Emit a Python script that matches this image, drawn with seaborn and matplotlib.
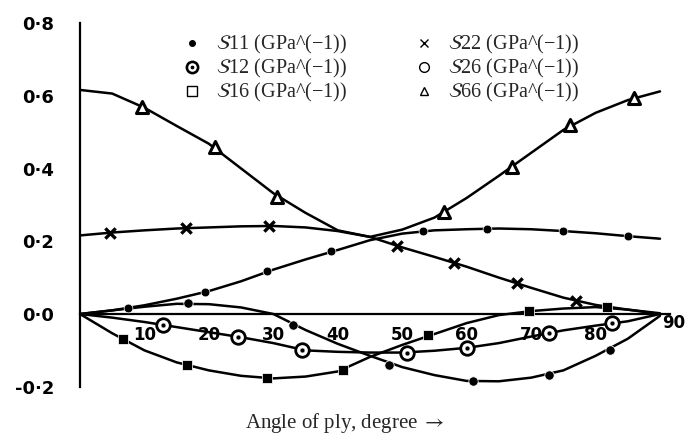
import matplotlib
matplotlib.use('Agg')
import matplotlib.pyplot as plt
import matplotlib.transforms as mtransforms
from matplotlib.lines import Line2D
import seaborn as sns

# Curves every 5 degrees (compliance, GPa^-1)
angles = [0, 5, 10, 15, 20, 25, 30, 35, 40, 45, 50, 55, 60, 65, 70, 75, 80, 85, 90]
s11 = [0.0, 0.010, 0.024, 0.042, 0.063, 0.090, 0.122, 0.150, 0.176, 0.203, 0.221, 0.230,
       0.233, 0.235, 0.233, 0.228, 0.222, 0.214, 0.207]
s12 = [0.0, -0.010, -0.022, -0.036, -0.050, -0.064, -0.080, -0.100, -0.104, -0.106, -0.106,
       -0.101, -0.093, -0.080, -0.062, -0.045, -0.032, -0.020, 0.0]
s16 = [0.0, -0.053, -0.100, -0.133, -0.155, -0.170, -0.177, -0.172, -0.158, -0.118, -0.085,
       -0.055, -0.025, -0.003, 0.008, 0.015, 0.019, 0.012, 0.0]
s22 = [0.216, 0.224, 0.230, 0.235, 0.238, 0.241, 0.242, 0.238, 0.228, 0.212, 0.183, 0.157,
       0.130, 0.100, 0.072, 0.045, 0.025, 0.012, 0.002]
s26 = [0.0, 0.010, 0.020, 0.028, 0.027, 0.018, 0.0, -0.044, -0.082, -0.115, -0.146, -0.168,
       -0.184, -0.185, -0.175, -0.155, -0.115, -0.068, -0.005]
s66 = [0.616, 0.606, 0.567, 0.517, 0.468, 0.400, 0.332, 0.278, 0.230, 0.212, 0.232, 0.265,
       0.319, 0.380, 0.443, 0.506, 0.553, 0.588, 0.612]

# Hand-drawn marker positions
s11_mx = [7.5, 19.4, 29, 39, 53.3, 63.2, 75, 85]
s11_my = [0.017, 0.060, 0.118, 0.173, 0.228, 0.234, 0.228, 0.214]
s12_mx = [12.9, 24.5, 34.4, 50.8, 60, 72.7, 82.6]
s12_my = [-0.030, -0.063, -0.099, -0.107, -0.093, -0.052, -0.025]
s16_mx = [6.7, 16.6, 29, 40.8, 54, 69.6, 81.8]
s16_my = [-0.069, -0.140, -0.176, -0.154, -0.058, 0.007, 0.019]
s22_mx = [4.7, 16.5, 29.3, 49.2, 58, 67.8, 76.9]
s22_my = [0.223, 0.236, 0.242, 0.187, 0.141, 0.084, 0.037]
s26_mx = [16.8, 33, 48, 61, 72.7, 82.3]
s26_my = [0.030, -0.030, -0.140, -0.185, -0.168, -0.100]
s66_mx = [9.6, 21, 30.6, 56.5, 67, 76, 86]
s66_my = [0.569, 0.459, 0.322, 0.281, 0.404, 0.520, 0.594]

ytick_vals = [-0.2, 0.0, 0.2, 0.4, 0.6, 0.8]
ytick_labels = ['-0·2', '0·0', '0·2', '0·4', '0·6', '0·8']
xtick_vals = [10, 20, 30, 40, 50, 60, 70, 80, 90]
xtick_labels = ['10', '20', '30', '40', '50', '60', '70', '80', '90']
xminor_vals = [5, 15, 25, 35, 45, 55, 65, 75, 85]
legend_labels = [r'$\mathcal{S}$11 (GPa^(−1))', r'$\mathcal{S}$12 (GPa^(−1))',
                 r'$\mathcal{S}$16 (GPa^(−1))', r'$\mathcal{S}$22 (GPa^(−1))',
                 r'$\mathcal{S}$26 (GPa^(−1))', r'$\mathcal{S}$66 (GPa^(−1))']
xlabel = r'Angle of ply, degree $\rightarrow$'

sns.set_style('white')
plt.rcParams['mathtext.fontset'] = 'stix'

fig = plt.figure(figsize=(6.86, 4.34), dpi=100)
ax = fig.add_axes([80 / 686, 47.25 / 434, 590 / 686, 363.75 / 434])

# Curves
for curve in [s11, s12, s16, s22, s26, s66]:
    sns.lineplot(x=angles, y=curve, ax=ax, color='black', lw=1.8)

# Markers
sns.scatterplot(x=s11_mx, y=s11_my, ax=ax, marker='o', s=40, color='black', zorder=5)
sns.scatterplot(x=s12_mx, y=s12_my, ax=ax, marker='o', s=95, facecolor='white',
                edgecolor='black', linewidth=2, zorder=5)
sns.scatterplot(x=s12_mx, y=s12_my, ax=ax, marker='o', s=12, color='black', zorder=6)
sns.scatterplot(x=s16_mx, y=s16_my, ax=ax, marker='s', s=45, color='black', zorder=5)
sns.scatterplot(x=s22_mx, y=s22_my, ax=ax, marker='x', s=55, color='black', linewidth=2.4, zorder=5)
sns.scatterplot(x=s26_mx, y=s26_my, ax=ax, marker='o', s=45, color='black', zorder=5)
sns.scatterplot(x=s66_mx, y=s66_my, ax=ax, marker='^', s=75, facecolor='white',
                edgecolor='black', linewidth=2.2, zorder=5)

# Axes through the origin
ax.set_xlim(0, 91.55)
ax.set_ylim(-0.2, 0.8)
ax.spines['top'].set_visible(False)
ax.spines['right'].set_visible(False)
ax.spines['bottom'].set_position(('data', 0))
for side in ['left', 'bottom']:
    ax.spines[side].set_linewidth(1.6)
    ax.spines[side].set_color('black')

ax.set_yticks(ytick_vals)
ax.set_yticklabels(ytick_labels)
ax.set_xticks(xtick_vals)
ax.set_xticklabels(xtick_labels)
ax.set_xticks(xminor_vals, minor=True)
ax.tick_params(axis='y', direction='inout', length=13, width=1.6, pad=12,
               labelsize=13, colors='black')
ax.tick_params(axis='x', which='both', direction='inout', length=9, width=1.4, pad=4,
               labelsize=12, colors='black')
for lab in ax.get_yticklabels() + ax.get_xticklabels():
    lab.set_fontweight('bold')

# the "90" sits past the end of the axis in the original
last = ax.get_xticklabels()[-1]
last.set_transform(last.get_transform()
                   + mtransforms.ScaledTranslation(0.14, 0.12, fig.dpi_scale_trans))

ax.set_xlabel(xlabel, fontsize=15, family='Liberation Serif')
ax.xaxis.set_label_coords(0.449, -0.066)
ax.set_ylabel('')

# Legend with glyph-like symbols
handles = [
    Line2D([], [], ls='none', marker='o', ms=4, color='black'),
    Line2D([], [], ls='none', marker=r'$\odot$', ms=9, color='black'),
    Line2D([], [], ls='none', marker='s', ms=7, mfc='white', mec='black', mew=1),
    Line2D([], [], ls='none', marker='x', ms=6, color='black', mew=1),
    Line2D([], [], ls='none', marker='o', ms=7, mfc='white', mec='black', mew=1),
    Line2D([], [], ls='none', marker='^', ms=6, mfc='white', mec='black', mew=1),
]
ax.legend(handles, legend_labels, ncol=2, frameon=False, loc='upper left',
          bbox_to_anchor=(0.152, 1.0), prop={'family': 'Liberation Serif', 'size': 14.5},
          handletextpad=0.6, columnspacing=3.2, labelspacing=0.05, handlelength=1.2,
          borderpad=0)

fig.savefig('out.png', dpi=100, facecolor='white')
